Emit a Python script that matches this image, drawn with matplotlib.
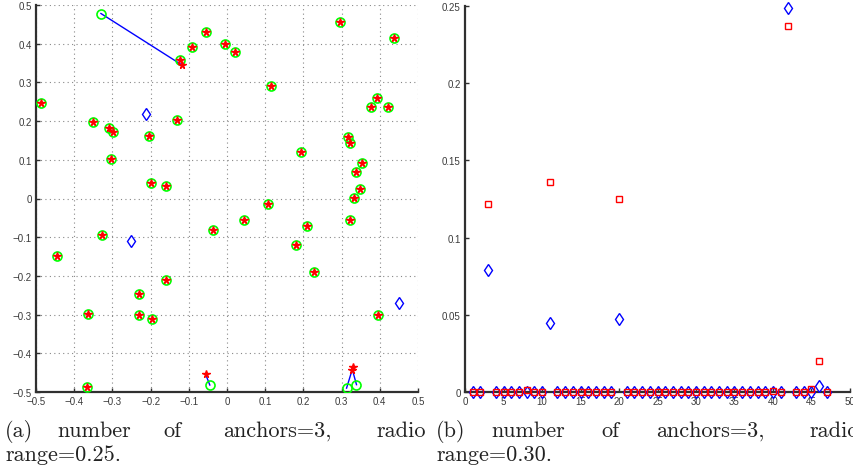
import numpy as np
import matplotlib
matplotlib.use("Agg")
import matplotlib.pyplot as plt

# (a) node positions, radio range 0.25
true_x = [-0.488, -0.123, -0.091, -0.056, -0.352, -0.309, -0.299, -0.304, -0.203, -0.132,
          -0.199, -0.160, -0.005, 0.022, 0.114, 0.296, 0.436, 0.392, 0.376, 0.422,
          0.318, 0.323, 0.194, 0.354, 0.339, 0.347, 0.332, -0.326, -0.445, -0.036,
          -0.160, -0.230, -0.230, -0.364, -0.197, -0.366, 0.045, 0.107, 0.209, 0.322,
          0.181, 0.227, 0.394, -0.330, -0.045, 0.313, 0.339]
true_y = [0.246, 0.359, 0.392, 0.430, 0.197, 0.181, 0.171, 0.103, 0.161, 0.202,
          0.041, 0.033, 0.398, 0.379, 0.290, 0.455, 0.416, 0.260, 0.236, 0.236,
          0.160, 0.143, 0.120, 0.093, 0.068, 0.025, 0.002, -0.094, -0.148, -0.081,
          -0.211, -0.248, -0.301, -0.298, -0.311, -0.488, -0.056, -0.014, -0.071, -0.056,
          -0.121, -0.191, -0.300, 0.478, -0.482, -0.490, -0.481]

# nodes whose estimate is off, with their estimated positions
bad_nodes = [43, 44, 45, 46]
bad_est_x = [-0.118, -0.056, 0.330, 0.328]
bad_est_y = [0.345, -0.454, -0.435, -0.442]

anchor_x = [-0.212, -0.251, 0.450]
anchor_y = [0.218, -0.111, -0.269]

# (b) error per node, radio range 0.30
red_err = [0, 0, 0.122, 0, 0, 0, 0, 0.001, 0, 0,
           0.136, 0, 0, 0, 0, 0, 0, 0, 0, 0.125,
           0, 0, 0, 0, 0, 0, 0, 0, 0, 0,
           0, 0, 0, 0, 0, 0, 0, 0, 0, 0.0005,
           0, 0.237, 0, 0, 0.0019, 0.020, 0]
blue_err = [0, 0, 0.079, 0, 0, 0, 0, 0, 0, 0,
            0.045, 0, 0, 0, 0, 0, 0, 0, 0, 0.047,
            0, 0, 0, 0, 0, 0, 0, 0, 0, 0,
            0, 0, 0, 0, 0, 0, 0, 0, 0, 0,
            0, 0.249, 0, 0, 0, 0.004, 0]

left_ticks = [-0.5, -0.4, -0.3, -0.2, -0.1, 0, 0.1, 0.2, 0.3, 0.4, 0.5]
left_labels = ["\u22120.5", "\u22120.4", "\u22120.3", "\u22120.2", "\u22120.1", "0",
               "0.1", "0.2", "0.3", "0.4", "0.5"]
right_yticks = [0, 0.05, 0.1, 0.15, 0.2, 0.25]
right_ylabels = ["0", "0.05", "0.1", "0.15", "0.2", "0.25"]
right_xticks = [0, 5, 10, 15, 20, 25, 30, 35, 40, 45, 50]

W, H = 854, 477
TICK_FONT = ["Liberation Sans Narrow", "Liberation Sans", "DejaVu Sans"]
TICK_COLOR = "#3a3a3a"


def px_axes(fig, x0, x1, y0, y1):
    return fig.add_axes([x0 / W, 1 - y1 / H, (x1 - x0) / W, (y1 - y0) / H])


def style_axes(ax):
    for side in ("top", "right"):
        ax.spines[side].set_visible(False)
    for side in ("left", "bottom"):
        ax.spines[side].set_color("#303030")
        ax.spines[side].set_linewidth(1.6)
    ax.tick_params(direction="in", length=3, width=1, colors="#303030",
                   labelsize=7, labelcolor=TICK_COLOR, pad=3)
    for lab in ax.get_xticklabels() + ax.get_yticklabels():
        lab.set_fontfamily(TICK_FONT)


fig = plt.figure(figsize=(W / 100, H / 100), dpi=100)

# ---- (a) ----
ax1 = px_axes(fig, 36, 418, 6, 393)
est_x = list(true_x)
est_y = list(true_y)
for i, k in enumerate(bad_nodes):
    est_x[k] = bad_est_x[i]
    est_y[k] = bad_est_y[i]

for k in bad_nodes:
    ax1.plot([true_x[k], est_x[k]], [true_y[k], est_y[k]], color="blue", lw=1, zorder=2)
ax1.plot(true_x, true_y, "o", ms=6.5, mfc="none", mec=(0, 1, 0), mew=1.2, zorder=3)
ax1.plot(est_x, est_y, "*", ms=5.5, color="red", mec="red", zorder=4)
ax1.plot(anchor_x, anchor_y, "d", ms=6, mfc="none", mec="blue", mew=1, zorder=4)

ax1.set_xlim(-0.5, 0.5)
ax1.set_ylim(-0.5, 0.5)
ax1.set_xticks(left_ticks)
ax1.set_xticklabels(left_labels)
ax1.set_yticks(left_ticks)
ax1.set_yticklabels(left_labels)
ax1.grid(True, linestyle=(0, (1, 3)), color="#888888", lw=0.8)
ax1.set_axisbelow(True)
style_axes(ax1)

# ---- (b) ----
ax2 = px_axes(fig, 465, 850, 7, 393)
idx = np.arange(1, len(red_err) + 1)
ax2.plot(idx, blue_err, "d", ms=6, mfc="none", mec="blue", mew=1, clip_on=False, zorder=3)
ax2.plot(idx, red_err, "s", ms=5, mfc="none", mec="red", mew=1, clip_on=False, zorder=4)
ax2.set_xlim(0, 50)
ax2.set_ylim(0, 0.25)
ax2.set_xticks(right_xticks)
ax2.set_yticks(right_yticks)
ax2.set_yticklabels(right_ylabels)
style_axes(ax2)

# ---- captions ----
CAP = dict(fontfamily="cmr10", fontsize=16, color="#222222", va="baseline", ha="left")
line1_y = 1 - 437 / H
line2_y = 1 - 461 / H
caption_a = [("(a)", 5), ("number", 57), ("of", 163), ("anchors=3,", 223), ("radio", 376)]
caption_b = [("(b)", 436), ("number", 491), ("of", 601), ("anchors=3,", 656), ("radio", 809)]
for word, x in caption_a + caption_b:
    fig.text(x / W, line1_y, word, **CAP)
fig.text(5 / W, line2_y, "range=0.25.", **CAP)
fig.text(436 / W, line2_y, "range=0.30.", **CAP)

fig.savefig("out.png", dpi=100)
